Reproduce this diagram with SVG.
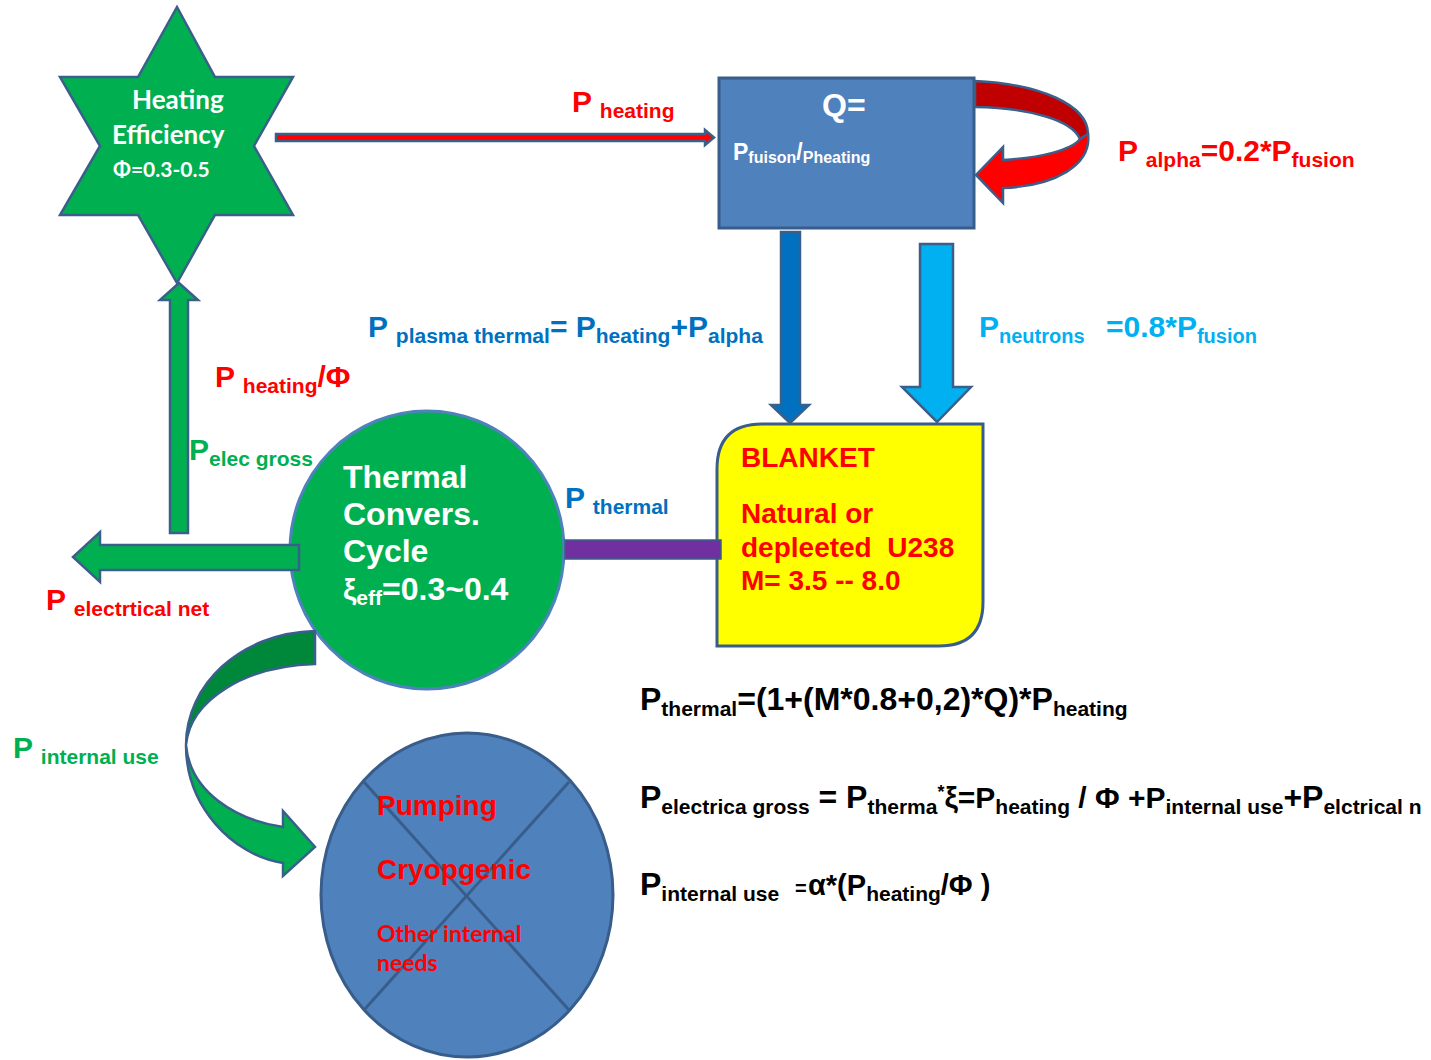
<svg xmlns="http://www.w3.org/2000/svg" width="1431" height="1060" viewBox="0 0 1431 1060">
<style>
text{font-family:"Liberation Sans",Arial,sans-serif;font-weight:bold}
.cal{font-family:Lato,"Noto Sans",sans-serif;font-weight:bold}
.m{font-size:30px}
.s{font-size:21px}
.red{fill:#FF0000}
.blue{fill:#0070C0}
.lblue{fill:#00B0F0}
.green{fill:#00B050}
.blk{fill:#000}
.wht{fill:#FFFFFF}
.edge{stroke:#3A5F8A;stroke-width:2.5;stroke-linejoin:miter}
</style>
<rect width="1431" height="1060" fill="#FFFFFF"/>

<g id="node-star">
  <polygon class="edge" fill="#00B050" points="177,7 215,77 293,77 254,146 293,215 215,215 177,283 138,215 60,215 100,146 60,77 138,77"/>
  <text class="cal wht" x="132" y="109" font-size="26">Heating</text>
  <text class="cal wht" x="112" y="144" font-size="26">Efficiency</text>
  <text class="cal wht" x="113" y="177" font-size="21">Φ=0.3-0.5</text>
</g>

<g id="node-q">
  <rect x="719" y="78" width="255" height="150" fill="#4F81BD" stroke="#385D8A" stroke-width="3"/>
  <text class="wht" x="822" y="116" font-size="32">Q=</text>
  <text class="wht" x="733" y="160"><tspan font-size="23">P</tspan><tspan font-size="16" dy="3">fuison</tspan><tspan font-size="23" dy="-3">/</tspan><tspan font-size="16" dy="3">Pheating</tspan></text>
</g>

<g id="node-blanket">
  <path d="M762,424 L983,424 L983,602 Q983,646 939,646 L717,646 L717,469 Q717,424 762,424 Z" fill="#FFFF00" stroke="#385D8A" stroke-width="3"/>
  <text class="red" x="741" y="467" font-size="28">BLANKET</text>
  <text class="red" x="741" y="523" font-size="28">Natural or</text>
  <text class="red" x="741" y="557" font-size="28" xml:space="preserve">depleeted  U238</text>
  <text class="red" x="741" y="590" font-size="28">M= 3.5 -- 8.0</text>
</g>

<g id="node-cycle">
  <ellipse cx="427" cy="550" rx="137" ry="139" fill="#00B050" stroke="#4F81BD" stroke-width="3"/>
  <text class="wht" x="343" y="488" font-size="32">Thermal</text>
  <text class="wht" x="343" y="525" font-size="32">Convers.</text>
  <text class="wht" x="343" y="562" font-size="32">Cycle</text>
  <text class="wht" x="343" y="600"><tspan font-size="30">ξ</tspan><tspan font-size="21" dy="5">eff</tspan><tspan font-size="32" dy="-5">=0.3~0.4</tspan></text>
</g>

<g id="node-internal">
  <ellipse cx="467" cy="895" rx="146" ry="162" fill="#4F81BD" stroke="#385D8A" stroke-width="3"/>
  <line x1="364" y1="782" x2="569" y2="1010" stroke="#385D8A" stroke-width="3"/>
  <line x1="569" y1="782" x2="364" y2="1010" stroke="#385D8A" stroke-width="3"/>
  <text class="red" x="377" y="815" font-size="28">Pumping</text>
  <text class="red" x="377" y="879" font-size="28">Cryopgenic</text>
  <text class="cal red" x="377" y="942" font-size="23">Other internal</text>
  <text class="cal red" x="377" y="971" font-size="23">needs</text>
</g>

<g id="connectors">
  <polygon class="edge" fill="#FF0000" stroke-width="2" points="276,134 705,134 705,130 714,137.5 705,145 705,141 276,141"/>
  <path id="alpha-loop-back" class="edge" fill="#C00000" d="M975,81 C1040,84 1088,105 1088,134 L1080,139 C1072,120 1030,108 975,107 Z"/>
  <path id="alpha-loop-front" class="edge" fill="#FF0000" d="M1003,160 C1040,158 1072,150 1080,139 L1088,134 C1092,165 1055,186 1003,188 L1003,203 L976,175 L1003,147 Z"/>
  <polygon class="edge" fill="#0070C0" stroke="#2F5C8A" points="781,232 800,232 800,405 809,405 790,423 771,405 781,405"/>
  <polygon class="edge" fill="#00B0F0" stroke="#2E75B6" points="920,244 953,244 953,387 971,387 937,422 902,387 920,387"/>
  <rect x="565" y="540" width="156" height="19" fill="#7030A0" stroke="#3A5F8A" stroke-width="1.5"/>
  <polygon class="edge" fill="#00B050" points="170,533 188,533 188,300 198,300 179,283 160,300 170,300"/>
  <polygon class="edge" fill="#00B050" points="299,545 299,570 100,570 100,582 73,557 100,532 100,545"/>
  <path id="internal-back" class="edge" fill="#00883A" d="M315,631 C240,633 186,685 186,745 C190,700 245,666 315,664 Z"/>
  <path id="internal-front" class="edge" fill="#00B050" d="M186,745 C186,806 232,855 283,863 L283,876 L315,847 L283,811 L283,827 C236,820 190,792 186,745 Z"/>
</g>

<g id="labels">
  <text class="red" x="572" y="112"><tspan class="m">P </tspan><tspan class="s" dy="6">heating</tspan></text>
  <text class="red" x="1118" y="161"><tspan class="m">P </tspan><tspan class="s" dy="6">alpha</tspan><tspan class="m" dy="-6">=0.2*P</tspan><tspan class="s" dy="6">fusion</tspan></text>
  <text class="blue" x="368" y="337"><tspan class="m">P </tspan><tspan class="s" dy="6">plasma thermal</tspan><tspan class="m" dy="-6">= P</tspan><tspan class="s" dy="6">heating</tspan><tspan class="m" dy="-6">+P</tspan><tspan class="s" dy="6">alpha</tspan></text>
  <text class="lblue" x="979" y="337"><tspan class="m">P</tspan><tspan font-size="20" dy="6">neutrons</tspan><tspan class="m" x="1106" dy="-6">=0.8*P</tspan><tspan font-size="20" dy="6">fusion</tspan></text>
  <text class="red" x="215" y="387"><tspan class="m">P </tspan><tspan class="s" dy="6">heating</tspan><tspan class="m" dy="-6">/Φ</tspan></text>
  <text class="green" x="189" y="460"><tspan class="m">P</tspan><tspan class="s" dy="6">elec gross</tspan></text>
  <text class="blue" x="565" y="508"><tspan class="m">P </tspan><tspan class="s" dy="6">thermal</tspan></text>
  <text class="red" x="46" y="610"><tspan class="m">P </tspan><tspan class="s" dy="6">electrtical net</tspan></text>
  <text class="green" x="13" y="758"><tspan class="m">P </tspan><tspan class="s" dy="6">internal use</tspan></text>
</g>

<g id="formulas">
  <text class="blk" x="640" y="710"><tspan font-size="32">P</tspan><tspan class="s" dy="6">thermal</tspan><tspan font-size="32" dy="-6">=(1+(M*0.8+0,2)*Q)*P</tspan><tspan class="s" dy="6">heating</tspan></text>
  <text class="blk" x="640" y="808"><tspan font-size="32">P</tspan><tspan class="s" dy="6">electrica gross</tspan><tspan font-size="32" dy="-6"> = P</tspan><tspan class="s" dy="6">therma</tspan><tspan font-size="18" dy="-16">*</tspan><tspan font-size="30" dy="10">ξ=P</tspan><tspan class="s" dy="6">heating</tspan><tspan font-size="30" dy="-6"> / Φ +P</tspan><tspan class="s" dy="6">internal use</tspan><tspan font-size="32" dy="-6">+P</tspan><tspan class="s" dy="6">elctrical n</tspan></text>
  <text class="blk" x="640" y="895"><tspan font-size="32">P</tspan><tspan class="s" dy="6">internal use</tspan><tspan font-size="20" x="795" dy="-6">=</tspan><tspan font-size="29" x="808">α*(P</tspan><tspan class="s" dy="6">heating</tspan><tspan font-size="29" dy="-6">/Φ )</tspan></text>
</g>
</svg>
